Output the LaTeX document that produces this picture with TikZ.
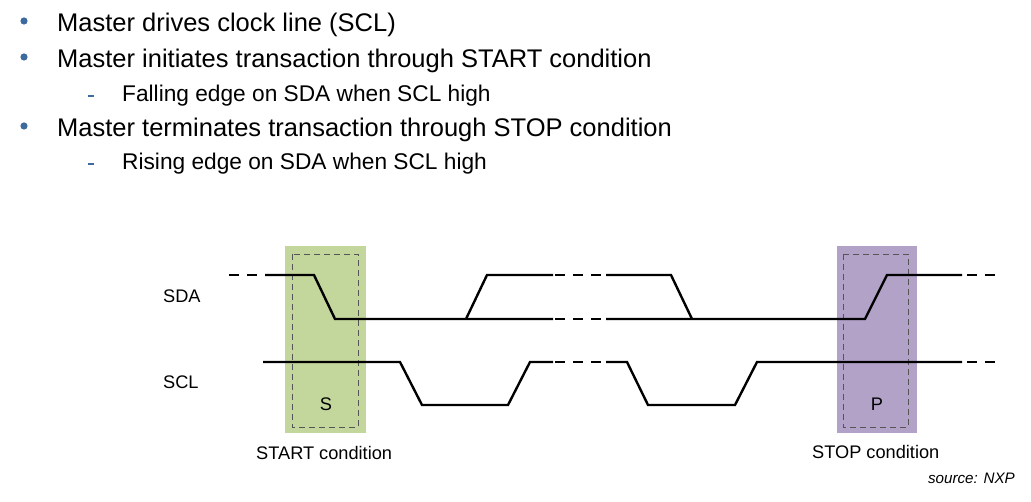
\documentclass[tikz,border=0pt]{standalone}
\usepackage{fontspec}
\setmainfont{Liberation Sans}
\definecolor{bulblue}{HTML}{3E6B9F}
\definecolor{startgreen}{HTML}{C3D69B}
\definecolor{stoppurple}{HTML}{B3A2C7}
\definecolor{innergrey}{HTML}{555555}
\tikzset{
  sig/.style={line width=2.4pt, line join=miter},
  sigdash/.style={line width=2.4pt, dash pattern=on 10pt off 8pt},
  inner/.style={draw=innergrey, line width=0.8pt, dash pattern=on 6pt off 4pt},
  maintext/.style={anchor=base west, inner sep=0pt, font=\fontsize{25.5}{30}\selectfont},
  subtext/.style={anchor=base west, inner sep=0pt, font=\fontsize{22.7}{28}\selectfont},
  lbl/.style={inner sep=0pt, font=\fontsize{18.2}{21}\selectfont},
  bul/.style={fill=bulblue, draw=none},
}
\begin{document}
\begin{tikzpicture}[x=1pt,y=-1pt]
\useasboundingbox (0,0) rectangle (1031,502);
% bullets
\fill[bul] (24,21) circle (3.6);
\fill[bul] (24,57) circle (3.6);
\fill[bul] (24,126) circle (3.6);
\fill[bul] (88,95) rectangle (94,97.2);
\fill[bul] (88,163) rectangle (94,165.2);
\node[maintext] (t1) at (57,32) {Master drives clock line (SCL)};
\node[maintext] (t2) at (57,68) {Master initiates transaction through START condition};
\node[subtext] (t3) at (122,102) {Falling edge on SDA when SCL high};
\node[maintext] (t4) at (57,137) {Master terminates transaction through STOP condition};
\node[subtext] (t5) at (122,170) {Rising edge on SDA when SCL high};
% condition boxes
\fill[startgreen] (285,246) rectangle (366,433);
\fill[stoppurple] (837,246) rectangle (917,433);
\draw[inner] (292,254) rectangle (358,427);
\draw[inner] (843,254) rectangle (908,427);
% SDA
\draw[sigdash] (229,275) -- (262,275);
\draw[sig] (265,275) -- (314,275) -- (335,319) -- (553,319);
\draw[sig] (466,319) -- (487,275) -- (553,275);
\draw[sigdash] (555,275) -- (604,275);
\draw[sigdash] (555,319) -- (604,319);
\draw[sig] (606,275) -- (671,275) -- (692,319);
\draw[sig] (606,319) -- (865,319) -- (887,275) -- (962,275);
\draw[sigdash] (967,275) -- (995,275);
% SCL
\draw[sig] (263,362) -- (400,362) -- (422,405) -- (508,405) -- (530,362) -- (553,362);
\draw[sigdash] (555,362) -- (604,362);
\draw[sig] (606,362) -- (627,362) -- (648,405) -- (735,405) -- (757,362) -- (962,362);
\draw[sigdash] (967,362) -- (995,362);
% labels
\node[lbl, anchor=base west] (sda) at (163,303) {SDA};
\node[lbl, anchor=base west] (scl) at (163,389) {SCL};
\node[lbl, anchor=base] (s) at (326,411) {S};
\node[lbl, anchor=base] (p) at (877,410) {P};
\node[lbl, anchor=base west] (startc) at (256,460) {START condition};
\node[lbl, anchor=base west] (stopc) at (812,458) {STOP condition};
\node[inner sep=0pt, anchor=base east, font=\fontsize{15.2}{18}\selectfont\itshape] (src) at (1015,483) {source: NXP};
\end{tikzpicture}
\end{document}
